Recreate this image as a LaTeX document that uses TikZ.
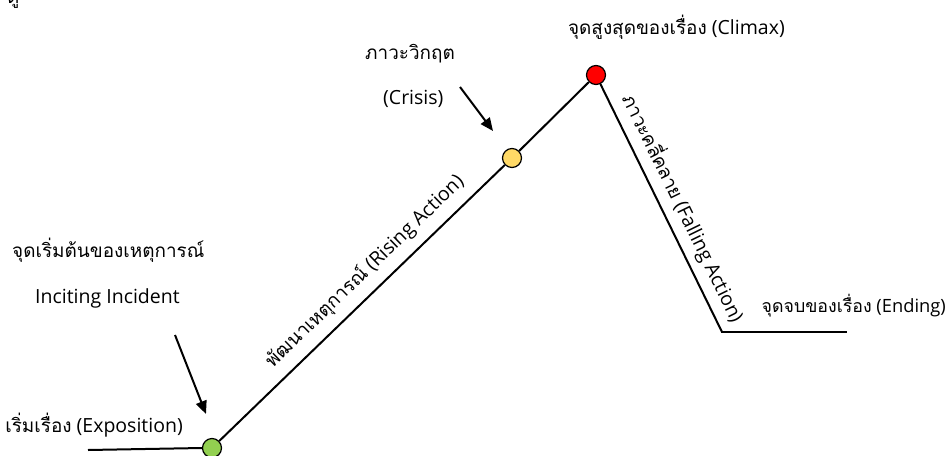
\documentclass[tikz,border=0pt]{standalone}
\usepackage{fontspec}
\setmainfont{Open Sans}
\newfontfamily\thaifont[Script=Thai,Scale=0.97]{Loma}
\newcommand\tf[1]{{\thaifont #1}}
\usetikzlibrary{arrows.meta}
\definecolor{dotgreen}{RGB}{146,208,80}
\definecolor{dotyellow}{RGB}{255,217,102}
\definecolor{dotred}{RGB}{255,0,0}
\tikzset{
  plotline/.style={line width=2pt, black},
  dot/.style={circle, draw=black, line width=1.2pt, minimum size=19pt, inner sep=0pt},
  lbl/.style={font=\fontsize{19.5}{23}\selectfont, inner sep=0pt},
  smalllbl/.style={font=\fontsize{18.3}{22}\selectfont, inner sep=0pt},
  pointer/.style={line width=2pt, -{Triangle[length=13pt,width=11pt]}},
}
\begin{document}
\begin{tikzpicture}[x=1pt,y=-1pt]
\useasboundingbox (0,0) rectangle (950,455);
% stray glyph at the top edge
\node[lbl, anchor=base west] (frag) at (7,3.5) {\tf{ดู}};
% points
\coordinate (start) at (88,450);
\node[dot, fill=dotgreen] (inc) at (212,448) {};
\node[dot, fill=dotyellow] (cri) at (512,158) {};
\node[dot, fill=dotred] (cli) at (596,75) {};
\coordinate (low) at (722,332);
\coordinate (fin) at (846,332);
% plot line
\draw[plotline] (start) -- (inc.west);
\draw[plotline] (inc) -- node[lbl, pos=0.56, sloped, above=9pt] (rise) {\tf{พัฒนาเหตุการณ์} (Rising Action)} (cri);
\draw[plotline] (cri) -- (cli);
\draw[plotline] (cli) -- node[lbl, pos=0.535, sloped, above=7pt] (fall) {\tf{ภาวะคลี่คลาย} (Falling Action)} (low);
\draw[plotline, line cap=rect] (low) -- (fin);
% labels
\node[lbl, anchor=base west] (inct) at (12,257) {\tf{จุดเริ่มต้นของเหตุการณ์}};
\node[lbl, anchor=base west] (ince) at (35,303) {Inciting Incident};
\node[lbl, anchor=base east] (expo) at (183,432) {\tf{เริ่มเรื่อง} (Exposition)};
\node[lbl, anchor=base west] (crit) at (365,59) {\tf{ภาวะวิกฤต}};
\node[lbl, anchor=base west] (crie) at (383,104) {(Crisis)};
\node[lbl, anchor=base east] (clit) at (785,34) {\tf{จุดสูงสุดของเรื่อง} (Climax)};
\node[smalllbl, anchor=base east] (endt) at (946,312) {\tf{จุดจบของเรื่อง} (Ending)};
% arrows
\coordinate (a1s) at (175,335);
\coordinate (a1e) at (206,414);
\coordinate (a2s) at (460,87);
\coordinate (a2e) at (493,131);
\draw[pointer] (a1s) -- (a1e);
\draw[pointer] (a2s) -- (a2e);
\end{tikzpicture}
\end{document}
